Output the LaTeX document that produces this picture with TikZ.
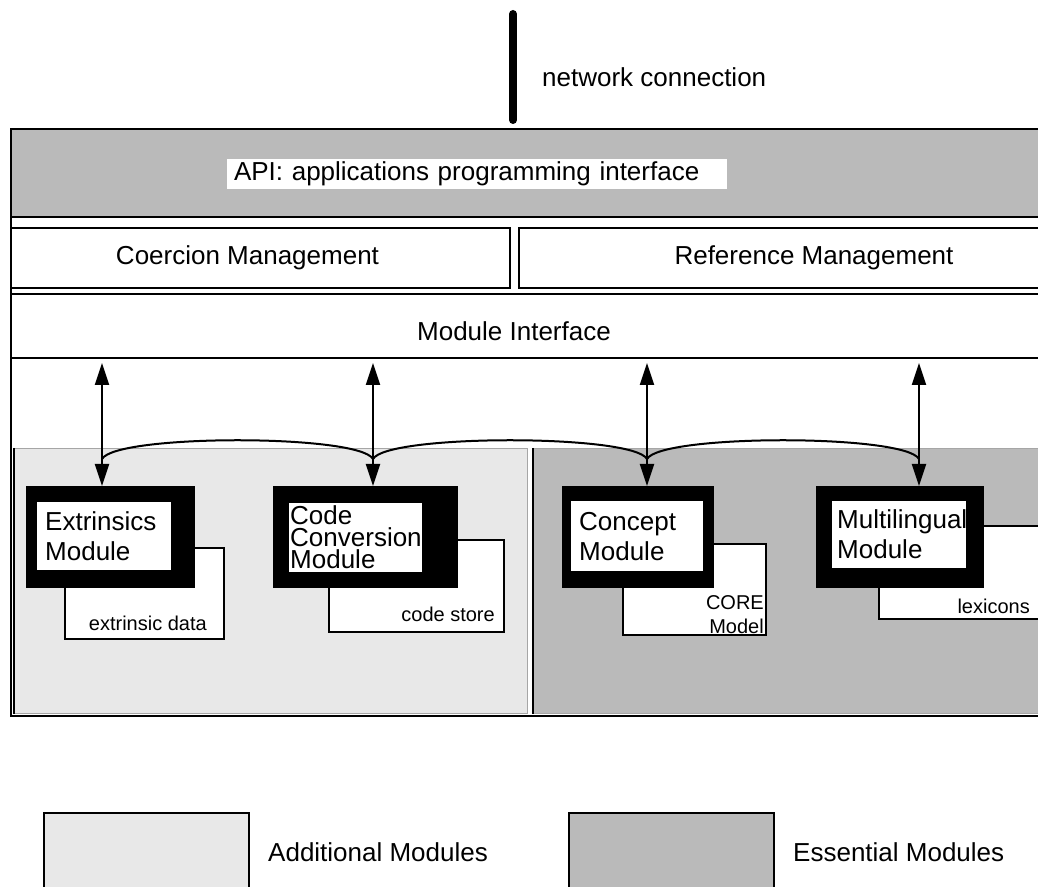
\documentclass[tikz,border=0pt]{standalone}
\usepackage{fontspec}
\setmainfont{Liberation Sans}
\usetikzlibrary{arrows.meta, positioning}

\begin{document}
\begin{tikzpicture}[
            x=1pt, y=1pt,
            >={Triangle[width=14pt,length=22pt]},
                band/.style = {rectangle, draw=black, line width=2pt,
                            anchor=north west},
                essential/.style = {fill=black!27},
                additional/.style = {fill=black!9},
                region/.style = {rectangle, draw=black!35, line width=1pt,
                            anchor=north west},
                modframe/.style = {rectangle, fill=black, anchor=north west},
                modinner/.style = {rectangle, fill=white, inner xsep=8pt,
                            align=left},
                store/.style = {rectangle, draw=black, fill=white,
                            line width=2pt, anchor=north west},
                storelabel/.style = {font=\fontsize{20}{24}\selectfont,
                            align=right},
                link/.style = {line width=2pt},
                netline/.style = {line width=8pt, line cap=round},
            every node/.style={font=\fontsize{26}{30}\selectfont, inner sep=0pt}]
            \useasboundingbox (0,0) rectangle (1038,886);
            \clip (0,0) rectangle (1038,886);

            % network and top bands
            \coordinate (net) at (513,872);
            \coordinate (netend) at (513,766);
            \draw[netline] (net) -- (netend);
            \node (netlabel) [anchor=west] at (542,809) {network connection};

            \node (system) [band, minimum width=1050pt, minimum height=587pt] at (10,758) {};
            \node (api) [band, essential, minimum width=1050pt, minimum height=88pt] at (10,758) {};
            \node (apilabel) [fill=white, inner xsep=7pt, text width=486pt,
                minimum height=30pt, align=left] at (477,712) {API: applications programming interface};
            \node (coercion) [band, minimum width=499pt, minimum height=60pt] at (10,659) {Coercion Management\hspace*{26pt}};
            \node (reference) [band, minimum width=590pt, minimum height=60pt] at (518,659) {Reference Management};
            \node (modif) [band, minimum width=1050pt, minimum height=64pt] at (10,593) {};
            \node (modiflabel) at (514,555) {Module Interface};

            % module areas
            \node (addregion) [region, additional, minimum width=513pt, minimum height=265pt] at (14,438) {};
            \node (essregion) [region, essential, minimum width=527pt, minimum height=265pt] at (533,438) {};
            \draw[line width=1.2pt] (addregion.north west) -- (addregion.south west);
            \draw[link] (essregion.north west) -- (essregion.south west);

            % connectors
            \coordinate (a1) at (102,523);
            \coordinate (a2) at (373,523);
            \coordinate (a3) at (647,523);
            \coordinate (a4) at (919,523);
            \coordinate (j1) at (102,427);
            \coordinate (j2) at (373,427);
            \coordinate (j3) at (647,427);
            \coordinate (j4) at (919,427);
            \draw[link] (j1) .. controls +(14,25) and +(-14,25) .. (j2);
            \draw[link] (j2) .. controls +(14,25) and +(-14,25) .. (j3);
            \draw[link] (j3) .. controls +(14,25) and +(-14,25) .. (j4);

            % data stores
            \node (extstore) [store, minimum width=159pt, minimum height=91pt] at (64,339) {};
            \node (codestore) [store, minimum width=175pt, minimum height=92pt] at (328,347) {};
            \node (conceptstore) [store, minimum width=143pt, minimum height=91pt] at (622,343) {};
            \node (multistore) [store, minimum width=163pt, minimum height=93pt] at (878,361) {};
            \node [storelabel, above left=9pt and 18pt of extstore.south east] {extrinsic data};
            \node [storelabel, above left=11pt and 10pt of codestore.south east] {code store};
            \node [storelabel, above left=2pt and 3pt of conceptstore.south east] {CORE\\Model};
            \node [storelabel, above left=6pt and 13pt of multistore.south east] {lexicons};

            % modules
            \node (extframe) [modframe, minimum width=169pt, minimum height=102pt] at (26,400) {};
            \node (codeframe) [modframe, minimum width=185pt, minimum height=102pt] at (273,400) {};
            \node (conceptframe) [modframe, minimum width=152pt, minimum height=102pt] at (562,400) {};
            \node (multiframe) [modframe, minimum width=168pt, minimum height=102pt] at (816,400) {};
            \node (ext) [modinner, below right=16pt and 11pt of extframe.north west,
                text width=118pt, minimum width=134pt, minimum height=68pt] {
                Extrinsics\\Module
            };
            \node (code) [modinner, below right=17pt and 16pt of codeframe.north west,
                inner xsep=1pt, text width=131pt, minimum width=133pt, minimum height=69pt,
                font=\fontsize{26}{22}\selectfont] {
                Code\\Conversion\\Module
            };
            \node (concept) [modinner, below right=15pt and 9pt of conceptframe.north west,
                text width=116pt, minimum width=132pt, minimum height=70pt] {
                Concept\\Module
            };
            \node (multi) [modinner, below right=15pt and 16pt of multiframe.north west,
                inner xsep=5pt, text width=124pt, minimum width=134pt, minimum height=67pt] {
                Multilingual\\Module
            };

            \draw[link, <->] (a1) -- (a1 |- extframe.north);
            \draw[link, <->] (a2) -- (a2 |- codeframe.north);
            \draw[link, <->] (a3) -- (a3 |- conceptframe.north);
            \draw[link, <->] (a4) -- (a4 |- multiframe.north);

            % key
            \node (addkey) [band, additional, minimum width=205pt, minimum height=100pt] at (43,74) {};
            \node (esskey) [band, essential, minimum width=205pt, minimum height=100pt] at (568,74) {};
            \node (addtext) [anchor=west] at (268,34) {Additional Modules};
            \node (esstext) [anchor=west] at (793,34) {Essential Modules};
        \end{tikzpicture}
\end{document}
